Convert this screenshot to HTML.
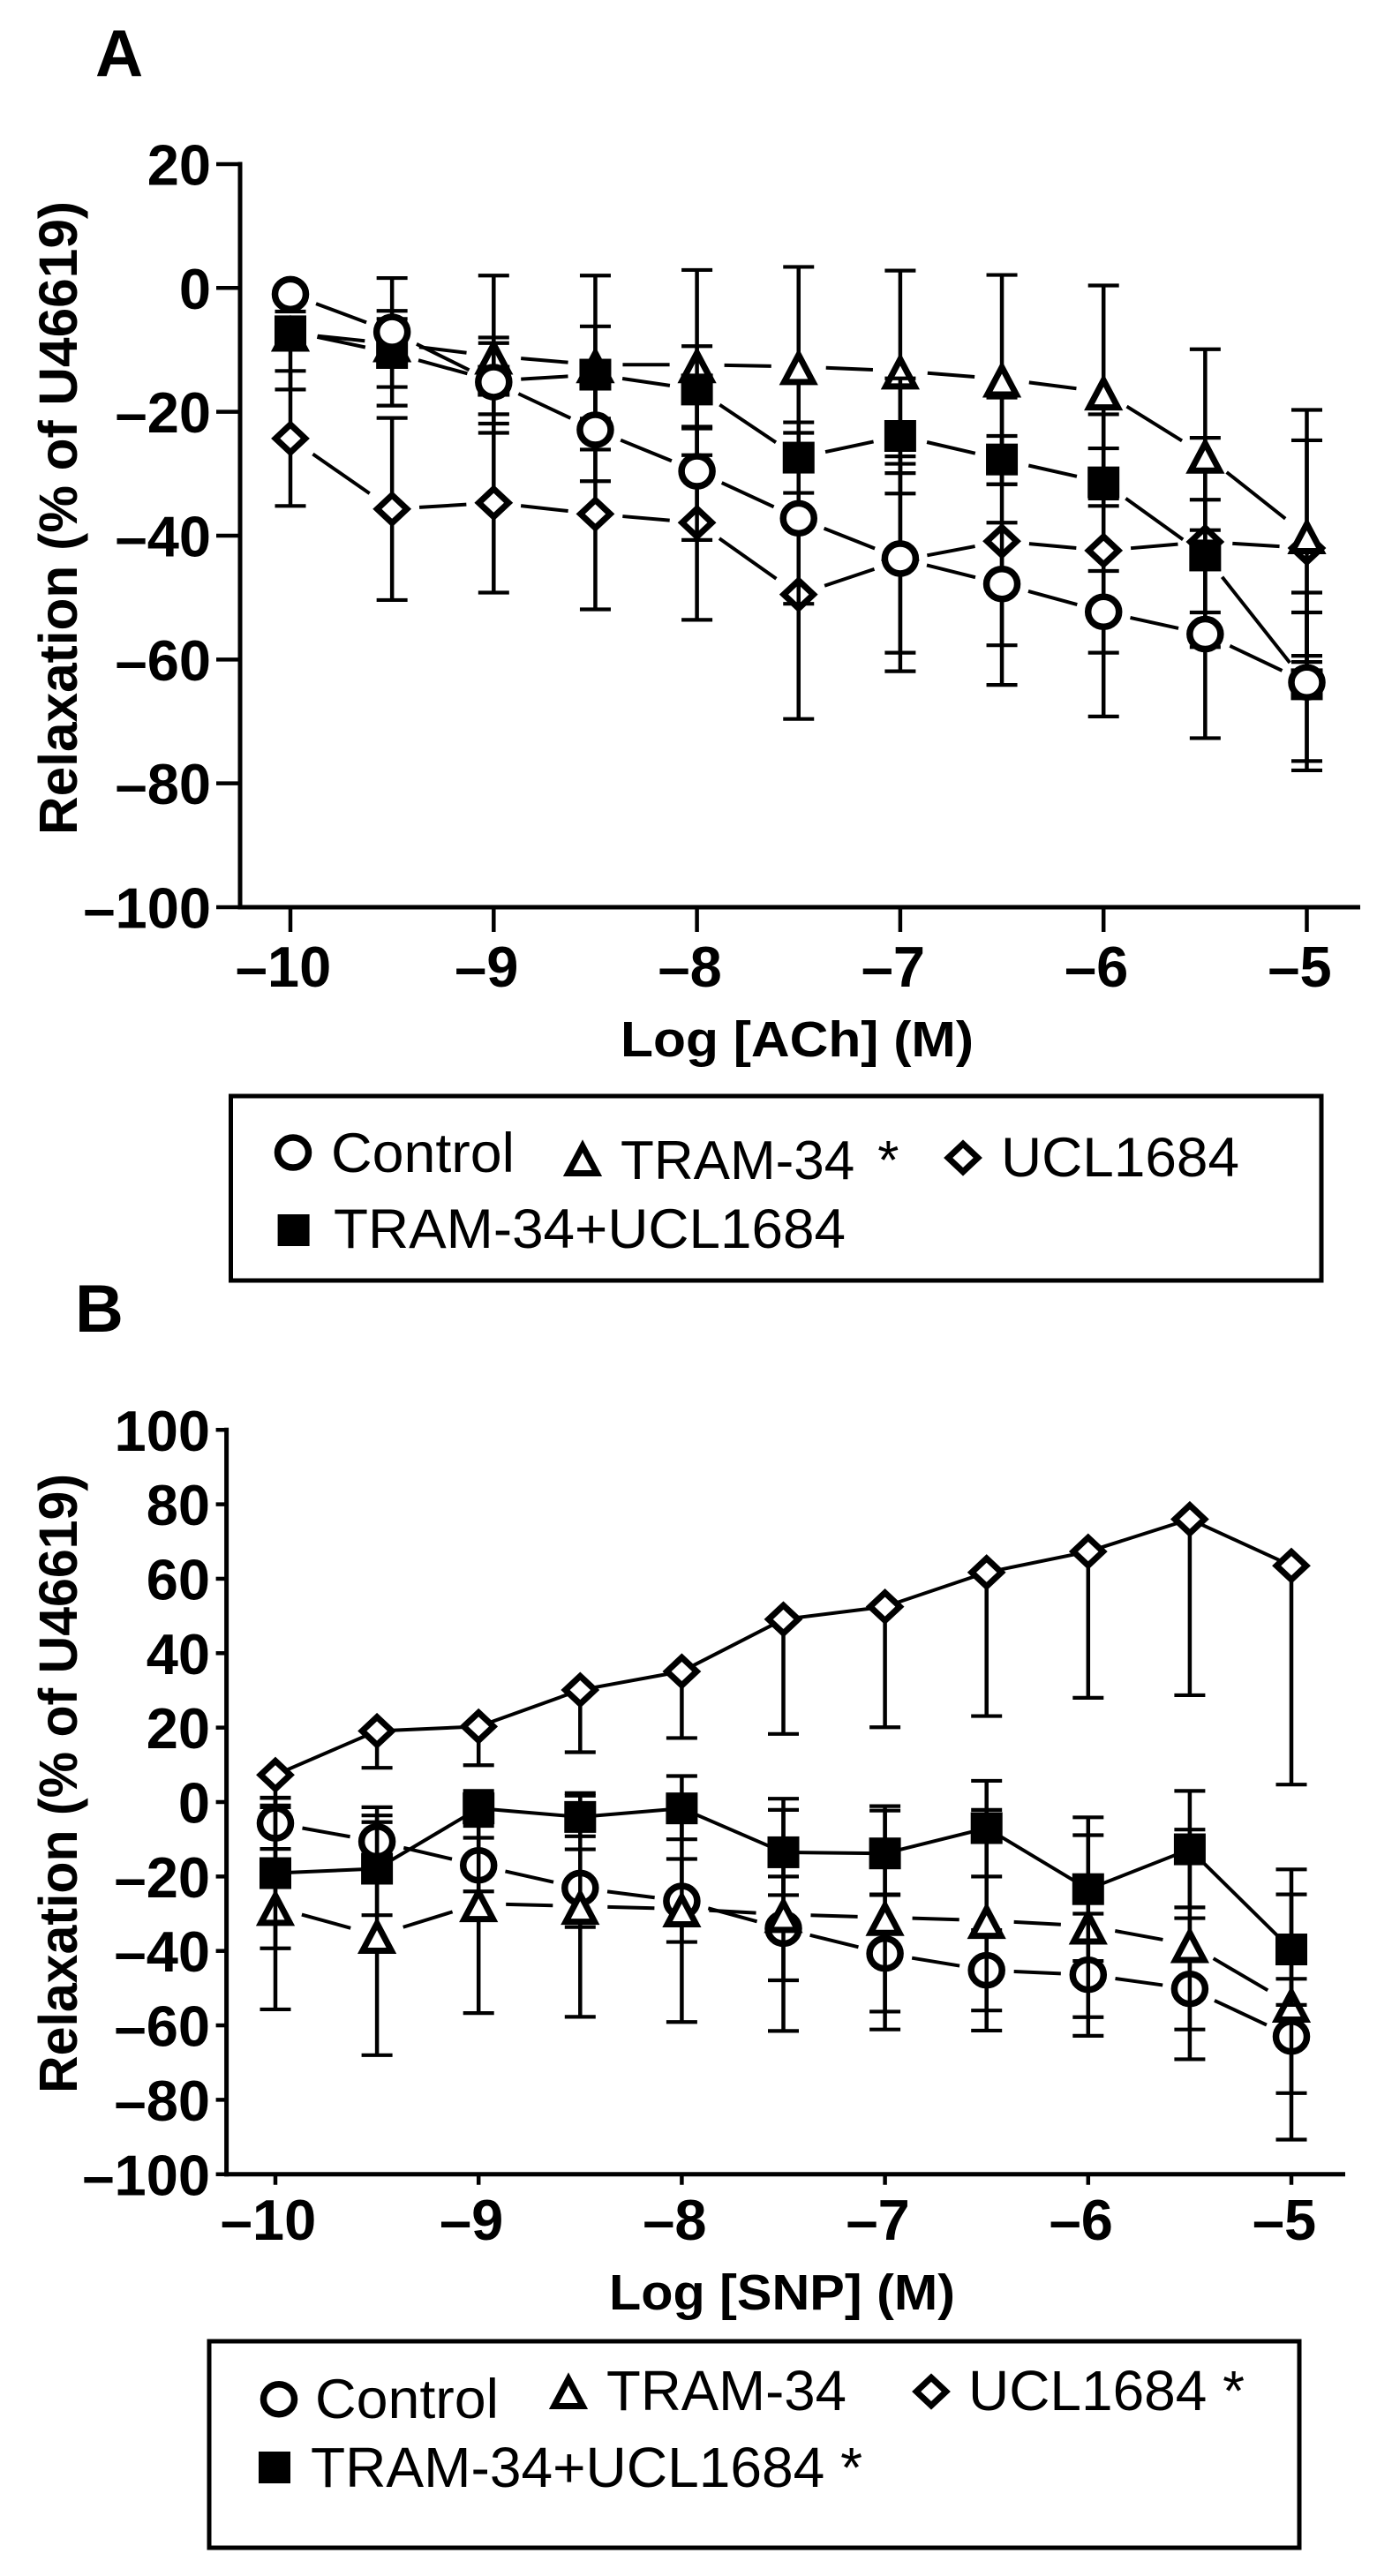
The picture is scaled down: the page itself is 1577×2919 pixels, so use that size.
<!DOCTYPE html>
<html lang="en">
<head>
<meta charset="utf-8">
<title>Relaxation responses to ACh and SNP</title>
<style>
  html, body { margin: 0; padding: 0; background: #fff; }
  svg { display: block; font-family: "Liberation Sans", Arial, sans-serif; }
  text { fill: #000; }
  .b { font-weight: bold; }
</style>
</head>
<body>
<svg id="fig" xmlns="http://www.w3.org/2000/svg" width="1577" height="2919" viewBox="0 0 1577 2919">
  <rect x="0" y="0" width="1577" height="2919" fill="#fff"/>

  <text class="b" x="108" y="86" font-size="75">A</text>
  <text class="b" x="85" y="1509" font-size="76">B</text>

  <text class="b" transform="translate(87,946) rotate(-90)" font-size="61" textLength="718" lengthAdjust="spacingAndGlyphs">Relaxation (% of U46619)</text>
  <text class="b" x="703" y="1197" font-size="57" textLength="400" lengthAdjust="spacingAndGlyphs">Log [ACh] (M)</text>
  <text class="b" transform="translate(87,2372) rotate(-90)" font-size="61" textLength="702" lengthAdjust="spacingAndGlyphs">Relaxation (% of U46619)</text>
  <text class="b" x="690" y="2617" font-size="57" textLength="392" lengthAdjust="spacingAndGlyphs">Log [SNP] (M)</text>

  <g id="plot-a"></g>
  <g id="plot-b"></g>

  <g>
    <rect x="261.5" y="1242" width="1235.5" height="209" fill="none" stroke="#000" stroke-width="5"/>
    <g id="legend-a-markers"></g>
    <text x="375" y="1328" font-size="63" textLength="208" lengthAdjust="spacingAndGlyphs">Control</text>
    <text x="703" y="1336" font-size="62">TRAM-34<tspan dx="26">*</tspan></text>
    <text x="1134" y="1333" font-size="63" textLength="270" lengthAdjust="spacingAndGlyphs">UCL1684</text>
    <text x="378" y="1414" font-size="63" textLength="580" lengthAdjust="spacingAndGlyphs">TRAM-34+UCL1684</text>
  </g>

  <g>
    <rect x="237" y="2653" width="1235" height="234" fill="none" stroke="#000" stroke-width="5"/>
    <g id="legend-b-markers"></g>
    <text x="357" y="2740" font-size="63" textLength="208" lengthAdjust="spacingAndGlyphs">Control</text>
    <text x="687" y="2731" font-size="64" textLength="272" lengthAdjust="spacingAndGlyphs">TRAM-34</text>
    <text x="1097" y="2731" font-size="64" textLength="313" lengthAdjust="spacingAndGlyphs">UCL1684 *</text>
    <text x="352" y="2818" font-size="64" textLength="625" lengthAdjust="spacingAndGlyphs">TRAM-34+UCL1684 *</text>
  </g>
</svg>

<script>
// ---------- shared categories and tick labels ----------
var concentrations = [-10, -9.5, -9, -8.5, -8, -7.5, -7, -6.5, -6, -5.5, -5];
var xTickValues = [-10, -9, -8, -7, -6, -5];
var yTicksA = [20, 0, -20, -40, -60, -80, -100];
var yTicksB = [100, 80, 60, 40, 20, 0, -20, -40, -60, -80, -100];

// ---------- panel A (ACh) values ----------
var aControl   = [-1, -7.1, -15.2, -22.9, -29.6, -37.2, -43.7, -47.8, -52.3, -55.9, -63.7];
var aControlHi = [null, -3.7, -8, -14.6, -18.5, -23.4, -28.4, -37.9, -45.7, -39.1, -52.4];
var aControlLo = [-3.8, -10.5, -21.9, -31.2, -40.7, -51, -58.9, -57.7, -58.9, -72.7, -76.4];

var aTram   = [-7.3, -9, -11, -12.4, -12.4, -12.7, -13.4, -14.7, -16.8, -27, -40];
var aTramHi = [null, 1.6, 2, 2, 2.9, 3.4, 2.8, 2.1, 0.4, -9.9, -19.7];
var aTramLo = [null, -19, -23.4, -26.1, -27, -28.8, -29.9, -31.7, -34, -44, -60.4];

var aUcl   = [-24.3, -35.7, -34.7, -36.5, -37.9, -49.5, -44, -40.9, -42.4, -41, -42];
var aUclHi = [-13.4, -21, -20.4, -21.1, -22.4, -29.4, -27.2, -17.7, -20.4, -24.2, -24.6];
var aUclLo = [-35.2, -50.4, -49.2, -51.9, -53.6, -69.6, -61.9, -64.1, -69.2, -58, -59.4];

var aCombo   = [-7, -10.5, -15, -14, -16.4, -27.4, -23.9, -27.7, -31.4, -43.2, -64];
var aComboHi = [null, -5, -8.9, -6.2, -9.4, -21.7, -14.6, -23.9, -25.9, -34.2, -49.2];
var aComboLo = [-16.4, -16, -20.4, -21.8, -22.7, -33.1, -33.2, -31.7, -35.2, -52.4, -77.9];

// ---------- panel B (SNP) values ----------
var bControl   = [-5.7, -10.6, -17, -23.1, -26.6, -34, -40.7, -45.2, -46.4, -50.2, -63];
var bControlHi = [1.2, -1.4, -9.6, -12.7, -15.3, -20, -25, -34.4, -30, -31.2, -47.5];
var bControlLo = [-12.6, -19.8, -24, -33.6, -37.6, -47.9, -56.3, -56, -62.8, -69.1, -78.2];

var bTram   = [-28.3, -35.8, -27.3, -28, -28.7, -30.2, -31, -31.8, -33.3, -38.3, -54.3];
var bTramHi = [-0.9, -3.6, 2.1, 1.7, 1.7, 0.9, -1.1, -2.1, -8.9, -7.4, -18.1];
var bTramLo = [-55.7, -68, -56.7, -57.7, -59.1, -61.5, -61.1, -61.4, -57.8, -61.1, -90.7];

var bUcl   = [7.3, 19.1, 20.3, 30.1, 35.1, 49.1, 52.5, 61.7, 67.3, 76, 63.5];
var bUclHi = [null, null, null, null, null, null, null, null, null, null, null];
var bUclLo = [-1.4, 9.2, 9.9, 13.4, 17.2, 18.3, 20.1, 23.1, 28, 28.7, 4.7];

var bCombo   = [-19.1, -17.9, -1.7, -4, -1.7, -13.5, -13.8, -7, -23.4, -12.7, -39.6];
var bComboHi = [1.1, -5.4, 3, 2.4, 7, -2.1, -2.3, 5.7, -4.1, 3, -24.8];
var bComboLo = [-39.3, -30.4, -6.4, -9.2, -10, -25, -24.8, -20, -42.7, -28.3, -54.5];

var SVGNS = 'http://www.w3.org/2000/svg';

function make(tag, attrs, parent) {
  var el = document.createElementNS(SVGNS, tag);
  for (var k in attrs) { el.setAttribute(k, attrs[k]); }
  parent.appendChild(el);
  return el;
}

function drawMarker(kind, cx, cy, parent, name) {
  var el;
  if (kind === 'circle') {
    el = make('ellipse', { cx: cx, cy: cy, rx: 17.5, ry: 17, fill: '#fff', stroke: '#000', 'stroke-width': 7.5 }, parent);
  } else if (kind === 'triangle') {
    el = make('polygon', {
      points: (cx) + ',' + (cy - 13.3) + ' ' + (cx + 16.3) + ',' + (cy + 17.5) + ' ' + (cx - 16.3) + ',' + (cy + 17.5),
      fill: '#fff', stroke: '#000', 'stroke-width': 7, 'stroke-linejoin': 'miter', 'stroke-miterlimit': 6
    }, parent);
  } else if (kind === 'diamond') {
    el = make('polygon', {
      points: (cx) + ',' + (cy - 15.8) + ' ' + (cx + 16.8) + ',' + cy + ' ' + (cx) + ',' + (cy + 15.8) + ' ' + (cx - 16.8) + ',' + cy,
      fill: '#fff', stroke: '#000', 'stroke-width': 7, 'stroke-linejoin': 'miter', 'stroke-miterlimit': 6
    }, parent);
  } else {
    el = make('rect', { x: cx - 18, y: cy - 18, width: 36, height: 36, fill: '#000' }, parent);
  }
  
  
  return el;
}

function drawAxes(root, panel) {
  var top = panel.yOf(panel.yTicks[0]);
  var bottom = panel.yOf(panel.yTicks[panel.yTicks.length - 1]);

  var yLine = make('line', { x1: panel.axisX, y1: top - 2.5, x2: panel.axisX, y2: bottom + 2.5, stroke: '#000', 'stroke-width': 5 }, root);
  
  

  var xLine = make('line', { x1: panel.axisX - 2.5, y1: bottom, x2: panel.axisEnd, y2: bottom, stroke: '#000', 'stroke-width': 5 }, root);
  
  

  panel.yTicks.forEach(function (v) {
    var y = panel.yOf(v);
    var tick = make('line', { x1: panel.axisX - panel.yTickLen, y1: y, x2: panel.axisX, y2: y, stroke: '#000', 'stroke-width': 4.5 }, root);
    
    

    var label = make('text', {
      'class': 'b',
      'text-anchor': 'end',
      'font-size': panel.yFont,
      x: panel.yLabelRight,
      y: y + panel.yLabelDy
    }, root);
    label.textContent = String(v).replace('-', '\u2013');
    
    
  });

  xTickValues.forEach(function (v) {
    var x = panel.xOf(v);
    var tick = make('line', { x1: x, y1: bottom, x2: x, y2: bottom + panel.xTickLen, stroke: '#000', 'stroke-width': 4.5 }, root);
    
    

    var label = make('text', {
      'class': 'b',
      'text-anchor': 'middle',
      'font-size': panel.xFont,
      x: x - 8,
      y: panel.xLabelY
    }, root);
    label.textContent = String(v).replace('-', '\u2013');
    
    
  });
}

function drawSeries(root, panel, s) {
  var group = make('g', {}, root);
  
  

  // connecting line segments, optionally stopping short of each marker
  for (var i = 0; i < concentrations.length - 1; i++) {
    var x1 = panel.xOf(concentrations[i]), y1 = panel.yOf(s.values[i]);
    var x2 = panel.xOf(concentrations[i + 1]), y2 = panel.yOf(s.values[i + 1]);
    var dx = x2 - x1, dy = y2 - y1, len = Math.sqrt(dx * dx + dy * dy);
    var g = s.gap / len;
    var seg = make('line', {
      x1: x1 + dx * g, y1: y1 + dy * g, x2: x2 - dx * g, y2: y2 - dy * g,
      stroke: '#000', 'stroke-width': 4
    }, group);
    
    
  }

  // error bars
  concentrations.forEach(function (c, j) {
    var x = panel.xOf(c);
    var hi = s.hi[j], lo = s.lo[j], val = s.values[j];
    var yHi = panel.yOf(hi === null ? val : hi);
    var yLo = panel.yOf(lo === null ? val : lo);
    var stem = make('line', { x1: x, y1: yHi, x2: x, y2: yLo, stroke: '#000', 'stroke-width': 4.5 }, group);
    
    
    [hi, lo].forEach(function (capValue) {
      if (capValue === null) { return; }
      var yc = panel.yOf(capValue);
      var cap = make('line', { x1: x - 17.5, y1: yc, x2: x + 17.5, y2: yc, stroke: '#000', 'stroke-width': 4.2 }, group);
      
      
    });
  });

  // markers
  concentrations.forEach(function (c, j) {
    drawMarker(s.marker, panel.xOf(c), panel.yOf(s.values[j]), group, panel.id + '-point-' + s.name);
  });
}

var panelA = {
  id: 'a',
  yTicks: yTicksA,
  axisX: 272, axisEnd: 1541,
  yTickLen: 27, xTickLen: 28,
  yFont: 65, yLabelRight: 239, yLabelDy: 23.5,
  xFont: 65, xLabelY: 1118,
  xOf: function (v) { return 329 + (v + 10) * 230.3; },
  yOf: function (v) { return 326.3 - v * 7.017; }
};

var panelB = {
  id: 'b',
  yTicks: yTicksB,
  axisX: 256.6, axisEnd: 1524,
  yTickLen: 12, xTickLen: 12,
  yFont: 65, yLabelRight: 238, yLabelDy: 23.5,
  xFont: 65, xLabelY: 2538,
  xOf: function (v) { return 312 + (v + 10) * 230.2; },
  yOf: function (v) { return 2042 - v * 4.2175; }
};

var rootA = document.getElementById('plot-a');
drawAxes(rootA, panelA);
drawSeries(rootA, panelA, { name: 'ucl1684', marker: 'diamond', values: aUcl, hi: aUclHi, lo: aUclLo, gap: 31 });
drawSeries(rootA, panelA, { name: 'tram34', marker: 'triangle', values: aTram, hi: aTramHi, lo: aTramLo, gap: 31 });
drawSeries(rootA, panelA, { name: 'combo', marker: 'square', values: aCombo, hi: aComboHi, lo: aComboLo, gap: 31 });
drawSeries(rootA, panelA, { name: 'control', marker: 'circle', values: aControl, hi: aControlHi, lo: aControlLo, gap: 31 });

var rootB = document.getElementById('plot-b');
drawAxes(rootB, panelB);
drawSeries(rootB, panelB, { name: 'control', marker: 'circle', values: bControl, hi: bControlHi, lo: bControlLo, gap: 31 });
drawSeries(rootB, panelB, { name: 'tram34', marker: 'triangle', values: bTram, hi: bTramHi, lo: bTramLo, gap: 31 });
drawSeries(rootB, panelB, { name: 'ucl1684', marker: 'diamond', values: bUcl, hi: bUclHi, lo: bUclLo, gap: 0 });
drawSeries(rootB, panelB, { name: 'combo', marker: 'square', values: bCombo, hi: bComboHi, lo: bComboLo, gap: 0 });

var legA = document.getElementById('legend-a-markers');
drawMarker('circle', 332, 1306, legA, 'legend-a-control-marker');
drawMarker('triangle', 660, 1312, legA, 'legend-a-tram34-marker');
drawMarker('diamond', 1091, 1312, legA, 'legend-a-ucl1684-marker');
drawMarker('square', 332.6, 1394, legA, 'legend-a-combo-marker');

var legB = document.getElementById('legend-b-markers');
drawMarker('circle', 316, 2718.7, legB, 'legend-b-control-marker');
drawMarker('triangle', 644, 2709, legB, 'legend-b-tram34-marker');
drawMarker('diamond', 1055, 2710, legB, 'legend-b-ucl1684-marker');
drawMarker('square', 311, 2796, legB, 'legend-b-combo-marker');
</script>
</body>
</html>
